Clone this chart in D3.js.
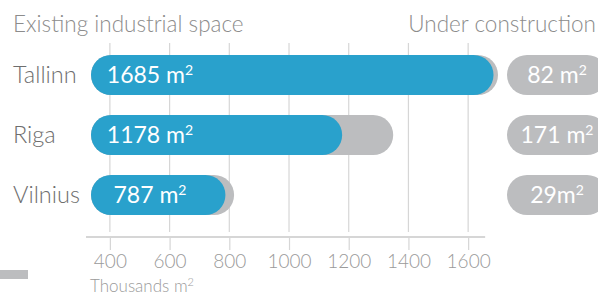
<!DOCTYPE html>
<html>
<head>
<meta charset="utf-8">
<script src="https://cdn.jsdelivr.net/npm/d3@7"></script>
<style>
  html, body { margin: 0; padding: 0; background: #fff; }
  svg { display: block; font-family: Lato, "Open Sans", sans-serif; font-weight: 300; }
</style>
</head>
<body>
<div id="chart"></div>
<script>
// --- data ---
const cities = ["Tallinn", "Riga", "Vilnius"];
const existing = [1685, 1178, 787];
const construction = [82, 171, 29];
const existingLabels = ["1685 m", "1178 m", "787 m"];
const constructionLabels = ["82 m", "171 m", "29m"];
const tickValues = [400, 600, 800, 1000, 1200, 1400, 1600];

const W = 598, H = 295;
const blue = "#29a1cc", gray = "#bcbdbf", grid = "#d6d6d6";

const svg = d3.select("#chart").append("svg")
  .attr("width", W)
  .attr("height", H);

// scales
const x = d3.scaleLinear().domain([320, 1700]).range([86, 498]).clamp(true);
const y = d3.scaleBand().domain(cities).range([45, 225]).paddingInner(1 / 3).paddingOuter(1 / 6);
const barH = y.bandwidth();
const barStart = x.range()[0] + 5;
const axisY = 237;

// headers
svg.append("text")
  .attr("x", 13).attr("y", 32)
  .attr("font-size", 22.5).attr("fill", "#8c8c8c")
  .text("Existing industrial space");
svg.append("text")
  .attr("x", 596).attr("y", 32)
  .attr("text-anchor", "end")
  .attr("font-size", 22.5).attr("fill", "#8c8c8c")
  .text("Under construction");

// gridlines
svg.append("g")
  .selectAll("line")
  .data(tickValues)
  .join("line")
    .attr("x1", d => x(d)).attr("x2", d => x(d))
    .attr("y1", 43).attr("y2", 232)
    .attr("stroke", grid).attr("stroke-width", 1.2);

// x axis
svg.append("g")
  .attr("transform", `translate(0,${axisY})`)
  .call(d3.axisBottom(x).tickValues(tickValues).tickSize(13).tickPadding(5).tickFormat(d3.format("d")))
  .call(ax => ax.select(".domain").remove())
  .call(ax => ax.selectAll(".tick line").attr("stroke", grid).attr("stroke-width", 1.2))
  .call(ax => ax.selectAll(".tick text")
    .attr("font-family", "Lato, 'Open Sans', sans-serif")
    .attr("font-weight", 300)
    .attr("font-size", 19)
    .attr("fill", "#9a9a9a"));

svg.append("line")
  .attr("x1", x.range()[0]).attr("x2", x(1657))
  .attr("y1", axisY).attr("y2", axisY)
  .attr("stroke", grid).attr("stroke-width", 2);

const unit = svg.append("text")
  .attr("x", 90).attr("y", 292)
  .attr("font-size", 17).attr("fill", "#9a9a9a")
  .text("Thousands m");
unit.append("tspan").attr("font-size", 11).attr("baseline-shift", "55%").text("2");

// legend swatch (cropped at left)
svg.append("rect")
  .attr("x", 0).attr("y", 270).attr("width", 28).attr("height", 9)
  .attr("fill", gray);

const rows = cities.map((c, i) => ({
  city: c,
  existing: existing[i],
  total: existing[i] + construction[i],
  label: existingLabels[i],
  cLabel: constructionLabels[i]
}));

const row = svg.append("g")
  .selectAll("g")
  .data(rows)
  .join("g")
    .attr("transform", d => `translate(0,${y(d.city) + y.bandwidth() / 2})`);

// category labels
row.append("text")
  .attr("x", 13).attr("y", 8)
  .attr("font-size", 23.5).attr("fill", "#6e6e6e")
  .text(d => d.city);

// gray (total incl. under construction) bar
row.append("rect")
  .attr("x", barStart).attr("y", -barH / 2)
  .attr("width", d => x(d.total) - barStart).attr("height", barH)
  .attr("rx", barH / 2)
  .attr("fill", gray);

// blue existing bar
row.append("rect")
  .attr("x", barStart).attr("y", -barH / 2)
  .attr("width", d => x(d.existing) - barStart).attr("height", barH)
  .attr("rx", barH / 2)
  .attr("fill", blue);

const lbl = row.append("text")
  .attr("x", 150).attr("y", 8)
  .attr("text-anchor", "middle")
  .attr("font-size", 23).attr("font-weight", 400).attr("fill", "#fff")
  .text(d => d.label);
lbl.append("tspan").attr("font-size", 14).attr("baseline-shift", "60%").text("2");

// under construction pills
row.append("rect")
  .attr("x", 507).attr("y", -barH / 2)
  .attr("width", 100).attr("height", barH)
  .attr("rx", barH / 2)
  .attr("fill", gray);

const cl = row.append("text")
  .attr("x", 557).attr("y", 8)
  .attr("text-anchor", "middle")
  .attr("font-size", 23).attr("font-weight", 400).attr("fill", "#fff")
  .text(d => d.cLabel);
cl.append("tspan").attr("font-size", 14).attr("baseline-shift", "60%").text("2");
</script>
</body>
</html>
